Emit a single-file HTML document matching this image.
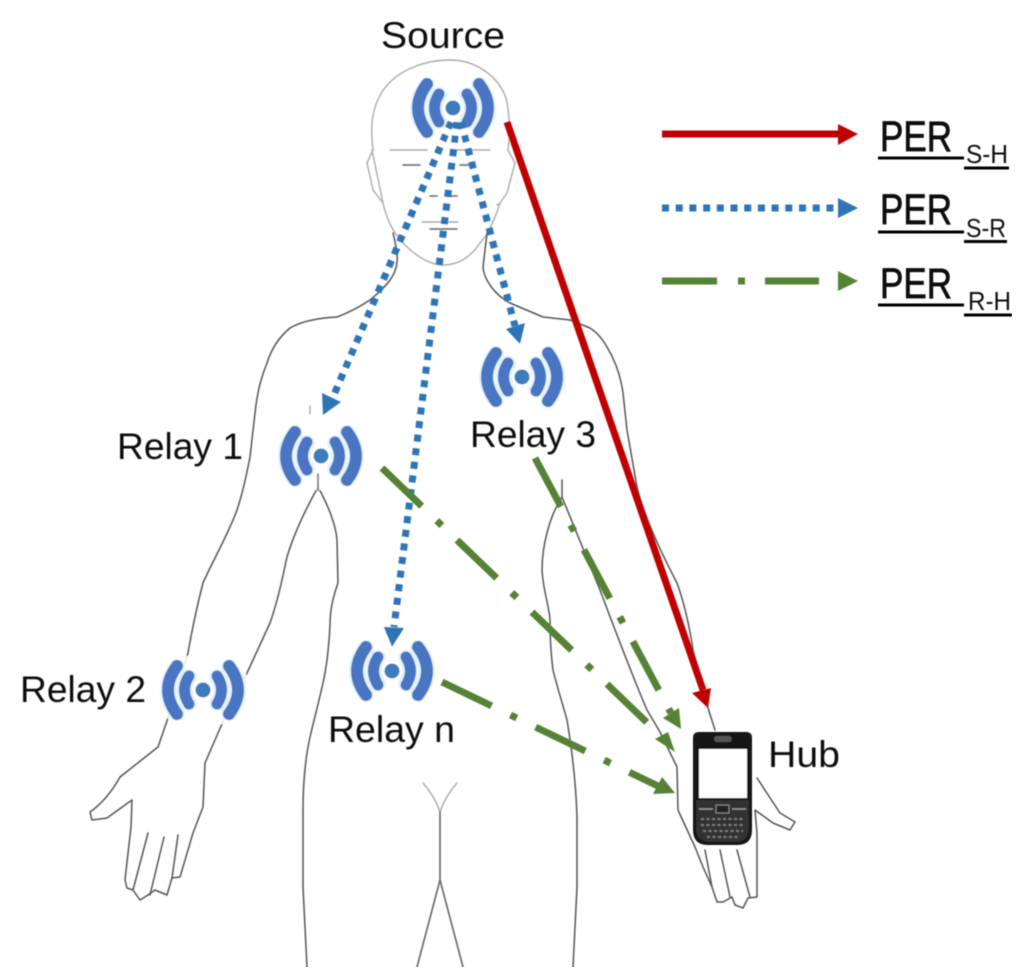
<!DOCTYPE html>
<html>
<head>
<meta charset="utf-8">
<style>
html,body{margin:0;padding:0;background:#fff}
svg{display:block}
text{font-family:"Liberation Sans",sans-serif;fill:#111}
.b{fill:none;stroke:#555;stroke-width:1.5;stroke-linejoin:round;stroke-linecap:round}
.f{fill:none;stroke:#aaa;stroke-width:1.4;stroke-linecap:round}
.d{fill:none;stroke:#666;stroke-width:1.6;stroke-linecap:round}
.blue{fill:none;stroke:#2e75b6;stroke-width:7;stroke-dasharray:7 6.7}
.green{fill:none;stroke:#548235;stroke-width:7;stroke-dasharray:55 21 7 21}
.per{stroke:#000;stroke-width:.7}
</style>
</head>
<body>
<svg width="1024" height="979" viewBox="0 0 1024 979" xmlns="http://www.w3.org/2000/svg">
<defs>
<filter id="soft" x="0" y="0" width="100%" height="100%"><feGaussianBlur stdDeviation="0.45"/></filter>
<g id="wifi">
<rect x="-44" y="-34" width="88" height="68" rx="24" fill="#fff" opacity=".85"/>
<g fill="none" stroke="#e3f2fb" stroke-width="16" stroke-linecap="round">
<path d="M-26,-23 Q-44,0 -26,23"/><path d="M26,-23 Q44,0 26,23"/>
<path d="M-14,-13 Q-23,0 -14,13"/><path d="M14,-13 Q23,0 14,13"/>
</g>
<g fill="none" stroke="#4a75c2" stroke-linecap="round">
<path d="M-26,-24 Q-44,0 -26,24" stroke-width="12"/>
<path d="M26,-24 Q44,0 26,24" stroke-width="12"/>
<path d="M-14,-14 Q-23,0 -14,14" stroke-width="11"/>
<path d="M14,-14 Q23,0 14,14" stroke-width="11"/>
</g>
<circle r="7.500" fill="#3d7dbd"/>
</g>
</defs>
<rect width="1024" height="979" fill="#fff"/>
<g filter="url(#soft)">

<!-- head -->
<path class="f" d="M373,150 C370,125 372,108 382,92 C396,70 425,60 450,60 C476,60 498,76 506,98 C510,115 510,135 508,150"/>
<path class="f" d="M373,150 L367,163 L373,190 L383,203 C387,220 393,233 405,245 C418,258 432,265 443,265 C458,265 470,258 480,243 L488,233 C493,222 497,213 500,203 L507,193 L515,163 L508,150"/>
<path class="f" d="M383,203 L372,150 M500,203 L497,205"/>
<path class="f" d="M390,150H427M453,150H490M422,222H458"/>
<path class="d" d="M403,165H420M460,165H472M430,196H437M449,196H457M430,229H457"/>

<!-- left body outline -->
<path class="b" d="M393,233 C396,245 398,255 397,262 C396,275 388,285 370,300 C358,308 345,314 337,317 C318,318 302,321 290,328 C278,338 271,350 267,363 C260,380 257,395 255,413 L250,457 C246,478 242,495 237,510 C228,535 213,560 203,583 C196,610 192,630 188,653 L168,718 L158,747 L120,777 C110,795 100,805 90,812 L92,820 L107,818 L132,800 L131,827 L125,880 L127,888 L133,890 L140,900 L148,895 L155,890 L167,895 L172,878 L180,877 L193,833 L203,807 L205,763 L225,717 L247,673 L270,623 C278,600 282,580 287,557 C295,530 308,505 318,487 C328,505 336,525 337,540 L338,583 C332,600 330,612 330,625 C329,645 327,665 323,683 C318,705 314,720 310,737 C305,760 303,785 303,810 L303,887 L307,967"/>
<path class="b" d="M148,833 L133,890 M164,837 L150,895 M178,835 L172,878"/>
<path class="f" d="M310,406V414"/>
<!-- right body outline -->
<path class="b" d="M487,233 L483,267 C484,280 495,295 510,303 L543,317 L570,320 L590,328 C598,333 603,340 607,347 C616,362 621,378 623,393 L627,430 L637,487 C645,520 665,560 677,583 C685,605 690,630 693,650 L708,708 L715,730"/>
<path class="b" d="M562,480 L562,497 C550,515 542,545 542,570 C543,590 549,605 550,620 C550,640 551,655 553,670 C558,690 563,705 567,720 C572,750 576,785 577,817 L577,887 L573,967"/>
<path class="b" d="M562,497 L600,590 C615,630 632,675 647,710 L660,732 L677,767 L678,810 L695,847 L703,867 L712,887 L717,902 L723,902 L732,897 L735,905 L743,908 L748,898 L757,897 L757,833 L755,810 L773,823 L790,830 L795,822 L780,813 L757,778"/>
<path class="b" d="M705,850 L712,887 M720,850 L730,897 M737,850 L750,897"/>
<!-- crotch -->
<path class="f" d="M423,783 Q436,798 440,813 Q444,798 457,783"/>
<path class="d" d="M440,813 V880 L417,967 M440,880 L463,967"/>

<!-- wifi icons -->
<use href="#wifi" x="453" y="108"/>
<use href="#wifi" x="522" y="377"/>
<use href="#wifi" x="321" y="456"/>
<use href="#wifi" x="203" y="690"/>
<use href="#wifi" x="392" y="671"/>
<path class="d" d="M318,474V490"/>

<!-- phone -->
<path d="M699,732H746Q752,732 752,738V830Q752,845 737,845H708Q693,845 693,830V738Q693,732 699,732Z" fill="#161616"/>
<rect x="699" y="749" width="48" height="49" fill="#fff"/>
<rect x="714" y="736" width="18" height="6" rx="3" fill="#555"/>
<path d="M696,800H749V828Q749,842 735,842H710Q696,842 696,828Z" fill="#333"/>
<rect x="716" y="805" width="13" height="8" fill="#222" stroke="#888" stroke-width="1"/>
<path d="M699,809H713M732,809H746" stroke="#999" stroke-width="1.5"/>
<path d="M701,819H745M701,825H745M703,831H743M707,837H738" stroke="#777" stroke-width="2" stroke-dasharray="3 2.5"/>

<!-- red arrow -->
<path d="M507,122 L703,690" stroke="#c00000" stroke-width="7" fill="none"/>
<polygon points="708,708 692,693 711,688" fill="#c00000"/>

<!-- blue arrows -->
<path class="blue" d="M451,122 L333,397"/>
<polygon points="323,415 322,393 341,402" fill="#2e75b6"/>
<path class="blue" d="M457,122 L394,627"/>
<polygon points="392,647 384,627 404,628" fill="#2e75b6"/>
<path class="blue" d="M461,122 L515,326"/>
<polygon points="520,344 506,329 525,323" fill="#2e75b6"/>

<!-- green arrows -->
<path class="green" d="M535,458 L671,713"/>
<polygon points="681,729 663,718 679,708" fill="#548235"/>
<path class="green" d="M382,468 L661,736"/>
<polygon points="675,752 655,739 668,732" fill="#548235"/>
<path class="green" d="M442,682 L658,786"/>
<polygon points="675,793 653,794 662,777" fill="#548235"/>

<!-- labels -->
<text x="381" y="48" font-size="37" textLength="124" lengthAdjust="spacingAndGlyphs">Source</text>
<text x="117" y="459" font-size="37" textLength="126" lengthAdjust="spacingAndGlyphs">Relay 1</text>
<text x="470" y="447" font-size="37" textLength="126" lengthAdjust="spacingAndGlyphs">Relay 3</text>
<text x="20" y="702" font-size="37" textLength="126" lengthAdjust="spacingAndGlyphs">Relay 2</text>
<text x="328" y="742" font-size="37" textLength="127" lengthAdjust="spacingAndGlyphs">Relay n</text>
<text x="768" y="767" font-size="37" textLength="72" lengthAdjust="spacingAndGlyphs">Hub</text>

<!-- legend -->
<path d="M662,134H840" stroke="#c00000" stroke-width="7"/>
<polygon points="838,124 858,134 838,145" fill="#c00000"/>
<path d="M662,208H834" stroke="#2e75b6" stroke-width="7" stroke-dasharray="7 6.7"/>
<polygon points="838,198 858,208 838,218" fill="#2e75b6"/>
<path d="M662,281H819" stroke="#548235" stroke-width="7" stroke-dasharray="55 21 7 20"/>
<polygon points="838,271 858,281 838,291" fill="#548235"/>

<text class="per" x="880" y="151" font-size="43" fill="#000" textLength="72" lengthAdjust="spacingAndGlyphs">PER</text>
<text x="966" y="163" font-size="26" fill="#000" textLength="42" lengthAdjust="spacingAndGlyphs">S-H</text>
<path d="M878,158H964M964,168H1009" stroke="#000" stroke-width="3"/>
<text class="per" x="880" y="224" font-size="43" fill="#000" textLength="72" lengthAdjust="spacingAndGlyphs">PER</text>
<text x="966" y="237" font-size="26" fill="#000" textLength="40" lengthAdjust="spacingAndGlyphs">S-R</text>
<path d="M878,232H964M964,241.500H1007" stroke="#000" stroke-width="3"/>
<text class="per" x="880" y="298" font-size="43" fill="#000" textLength="72" lengthAdjust="spacingAndGlyphs">PER</text>
<text x="968" y="310" font-size="26" fill="#000" textLength="43" lengthAdjust="spacingAndGlyphs">R-H</text>
<path d="M878,305H964M964,315H1012" stroke="#000" stroke-width="3"/>
</g>
</svg>
</body>
</html>
